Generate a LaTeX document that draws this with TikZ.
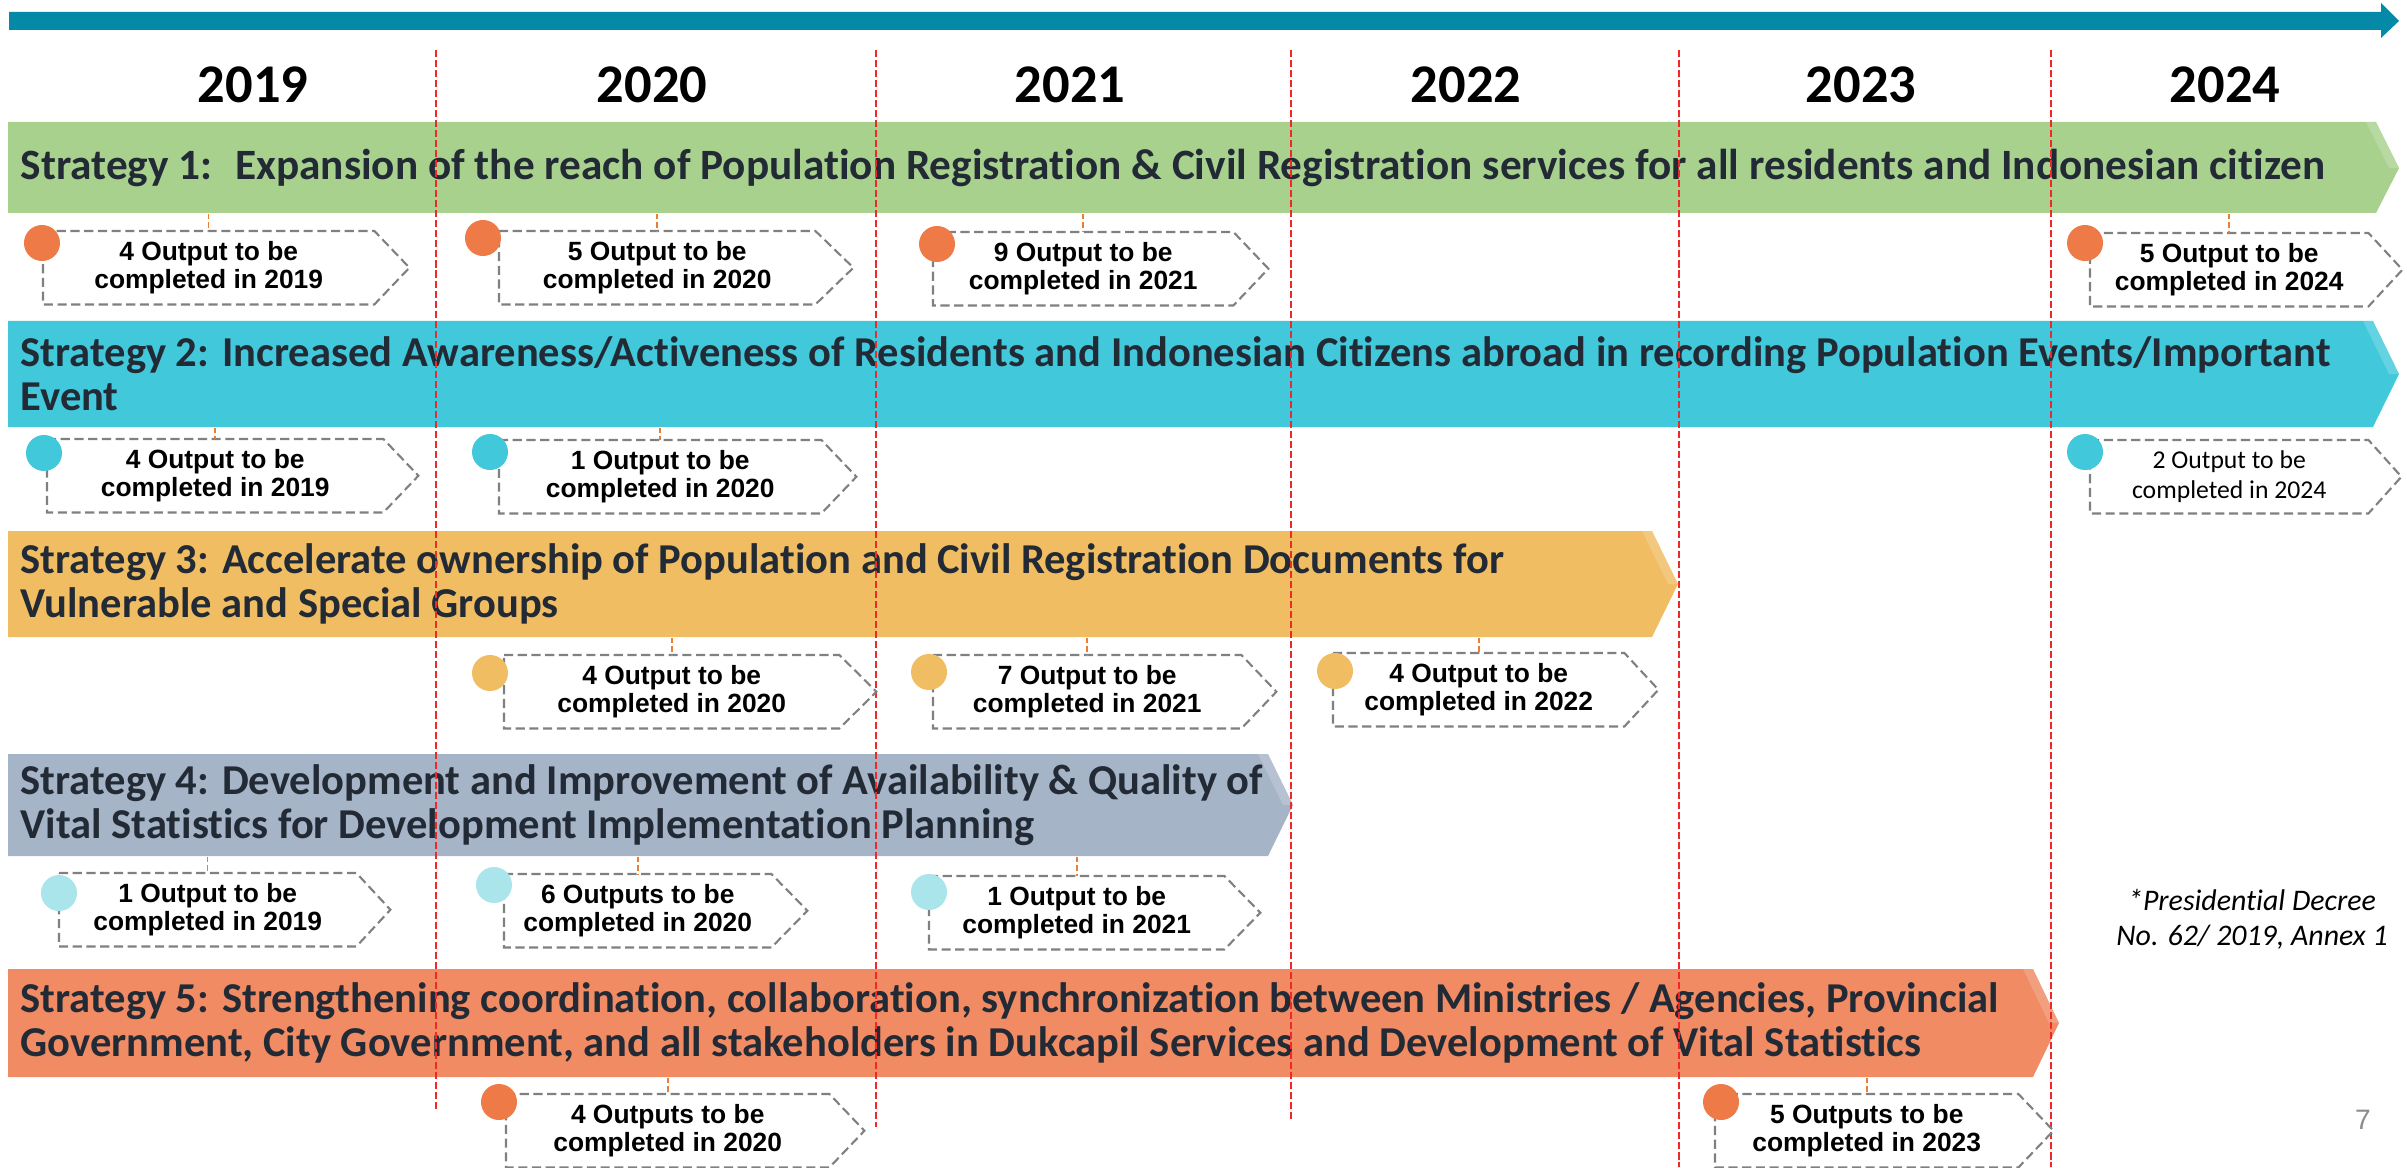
\documentclass[tikz,border=0pt]{standalone}
\usepackage{fontspec}
\setmainfont{Carlito}[Ligatures=NoCommon]
\newfontfamily\arialfont{Liberation Sans}
\usetikzlibrary{calc}

\definecolor{timeblue}{RGB}{4,137,166}
\definecolor{yearred}{RGB}{240,40,40}
\definecolor{inkdark}{RGB}{34,42,53}
\definecolor{sgreen}{RGB}{169,209,142}
\definecolor{scyan}{RGB}{65,201,219}
\definecolor{syellow}{RGB}{240,189,99}
\definecolor{sgrey}{RGB}{166,180,200}
\definecolor{ssalmon}{RGB}{240,139,100}
\definecolor{dotorange}{RGB}{238,122,72}
\definecolor{dotlight}{RGB}{170,229,236}
\definecolor{tickorange}{RGB}{237,125,49}
\definecolor{boxgrey}{RGB}{128,128,128}
\definecolor{pagegrey}{RGB}{140,140,140}

\tikzset{
  yeartext/.style={font=\bfseries\fontsize{15.5}{18}\selectfont},
  yearline/.style={yearred, line width=0.5pt, dash pattern=on 2pt off 0.85pt},
  bevel/.style={fill=white, fill opacity=0.18},
  bandtext/.style={anchor=west, inner xsep=0.12cm, inner ysep=0pt, align=left,
    text=inkdark, font=\bfseries\fontsize{12.1}{12.4}\selectfont},
  outtext/.style={anchor=north west, inner sep=0pt, minimum height=0.72cm, align=center,
    font=\arialfont\bfseries\fontsize{7.5}{8.2}\selectfont},
  plainout/.style={font=\mdseries\fontsize{7.3}{8.3}\selectfont},
  boxline/.style={boxgrey, line width=0.6pt, dash pattern=on 2.6pt off 1.3pt},
  dot/.style={circle, inner sep=0pt, minimum size=0.36cm},
  tick/.style={tickorange, line width=0.45pt, dash pattern=on 1.6pt off 0.8pt},
  note/.style={align=center, font=\itshape\fontsize{8.5}{10}\selectfont}
}

% [extra style] name, left, top, body right, tip, dot colour, dot centre, text
\newcommand{\outputbox}[9][]{%
  \node[outtext, #1, minimum width={(#5-#3)*0.01cm}] (#2) at (#3,#4) {#9};
  \draw[boxline] (#2.north west) -- (#2.north east) -- ($(#2.east)+(#6-#5,0)$)
    -- (#2.south east) -- (#2.south west) -- cycle;
  \node[dot, fill=#7] (#2dot) at (#8) {};
}

\begin{document}
\begin{tikzpicture}[x=0.01cm, y=-0.01cm]
\useasboundingbox (0,0) rectangle (2407,1167);

\fill[timeblue] (9,12) -- (2381,12) -- (2381,3) -- (2399,21) -- (2381,38) -- (2381,30) -- (9,30) -- cycle;

\path (253,85) node[yeartext] (y2019) {2019}
      (652,85) node[yeartext] (y2020) {2020}
      (1070,85) node[yeartext] (y2021) {2021}
      (1466,85) node[yeartext] (y2022) {2022}
      (1861,85) node[yeartext] (y2023) {2023}
      (2225,85) node[yeartext] (y2024) {2024};

\fill[sgreen] (8,122) -- (2376,122) -- (2399,168) -- (2376,213) -- (8,213) -- cycle;
\fill[bevel] (2366,122) -- (2376,122) -- (2399,168) -- (2389,168) -- cycle;
\node[bandtext, minimum height=0.91cm, font=\bfseries\fontsize{12.3}{12.4}\selectfont] (s1) at (8,167.5)
  {Strategy 1:~ Expansion of the reach of Population Registration \& Civil Registration services for all residents and Indonesian citizen};

\fill[scyan] (8,321) -- (2373,321) -- (2399,374) -- (2373,427) -- (8,427) -- cycle;
\fill[bevel] (2363,321) -- (2373,321) -- (2399,374) -- (2389,374) -- cycle;
\node[bandtext, minimum height=1.06cm] (s2) at (8,374)
  {Strategy 2: Increased Awareness/Activeness of Residents and Indonesian Citizens abroad in recording Population Events/Important\\Event};

\fill[syellow] (8,531) -- (1652,531) -- (1678,584) -- (1652,637) -- (8,637) -- cycle;
\fill[bevel] (1642,531) -- (1652,531) -- (1678,584) -- (1668,584) -- cycle;
\node[bandtext, minimum height=1.06cm] (s3) at (8,584)
  {Strategy 3: Accelerate ownership of Population and Civil Registration Documents for\\Vulnerable and Special Groups};

\fill[sgrey] (8,754) -- (1268,754) -- (1293,805) -- (1268,856) -- (8,856) -- cycle;
\fill[bevel] (1258,754) -- (1268,754) -- (1293,805) -- (1283,805) -- cycle;
\node[bandtext, minimum height=1.02cm] (s4) at (8,805)
  {Strategy 4: Development and Improvement of Availability \& Quality of\\Vital Statistics for Development Implementation Planning};

\fill[ssalmon] (8,969) -- (2033,969) -- (2059,1023) -- (2033,1077) -- (8,1077) -- cycle;
\fill[bevel] (2023,969) -- (2033,969) -- (2059,1023) -- (2049,1023) -- cycle;
\node[bandtext, minimum height=1.08cm] (s5) at (8,1023)
  {Strategy 5: Strengthening coordination, collaboration, synchronization between Ministries / Agencies, Provincial\\Government, City Government, and all stakeholders in Dukcapil Services and Development of Vital Statistics};

\draw[yearline] (436,50) -- (436,1110);
\draw[yearline] (876,50) -- (876,1127);
\draw[yearline] (1291,50) -- (1291,1120);
\draw[yearline] (1679,50) -- (1679,1167);
\draw[yearline] (2051,50) -- (2051,1167);

\outputbox{c1a}{43}{231}{373}{408}{dotorange}{42,243}{4 Output to be\\completed in 2019}
\outputbox{c1b}{499}{231}{814}{852}{dotorange}{483,238}{5 Output to be\\completed in 2020}
\outputbox{c1c}{933}{232}{1232}{1267}{dotorange}{937,244}{9 Output to be\\completed in 2021}
\outputbox{c1f}{2090}{233}{2367}{2401}{dotorange}{2085,243}{5 Output to be\\completed in 2024}
\outputbox{c2a}{47}{439}{382}{417}{scyan}{44,453}{4 Output to be\\completed in 2019}
\outputbox{c2b}{499}{440}{820}{855}{scyan}{490,452}{1 Output to be\\completed in 2020}
\outputbox[plainout]{c2f}{2090}{440}{2367}{2400}{scyan}{2085,452}{2 Output to be\\completed in 2024}
\outputbox{c3b}{504}{655}{838}{875}{syellow}{490,673}{4 Output to be\\completed in 2020}
\outputbox{c3c}{933}{655}{1240}{1275}{syellow}{929,672}{7 Output to be\\completed in 2021}
\outputbox{c3d}{1333}{653}{1623}{1657}{syellow}{1335,671}{4 Output to be\\completed in 2022}
\outputbox{c4a}{59}{873}{355}{389}{dotlight}{59,893}{1 Output to be\\completed in 2019}
\outputbox{c4b}{504}{874}{770}{806}{dotlight}{494,885}{6 Outputs to be\\completed in 2020}
\outputbox{c4c}{929}{876}{1223}{1259}{dotlight}{929,892}{1 Output to be\\completed in 2021}
\outputbox{c5b}{506}{1094}{828}{863}{dotorange}{499,1102}{4 Outputs to be\\completed in 2020}
\outputbox{c5e}{1715}{1094}{2017}{2052}{dotorange}{1721,1102}{5 Outputs to be\\completed in 2023}

\draw[tick] (c1a.north |- s1.south) -- (node cs:name=c1a, anchor=north);
\draw[tick] (c1b.north |- s1.south) -- (node cs:name=c1b, anchor=north);
\draw[tick] (c1c.north |- s1.south) -- (node cs:name=c1c, anchor=north);
\draw[tick] (c1f.north |- s1.south) -- (node cs:name=c1f, anchor=north);
\draw[tick] (c2a.north |- s2.south) -- (node cs:name=c2a, anchor=north);
\draw[tick] (c2b.north |- s2.south) -- (node cs:name=c2b, anchor=north);
\draw[tick] (c3b.north |- s3.south) -- (node cs:name=c3b, anchor=north);
\draw[tick] (c3c.north |- s3.south) -- (node cs:name=c3c, anchor=north);
\draw[tick] (c3d.north |- s3.south) -- (node cs:name=c3d, anchor=north);
\draw[tick] (c4a.north |- s4.south) -- (node cs:name=c4a, anchor=north);
\draw[tick] (c4b.north |- s4.south) -- (node cs:name=c4b, anchor=north);
\draw[tick] (c4c.north |- s4.south) -- (node cs:name=c4c, anchor=north);
\draw[tick] (c5b.north |- s5.south) -- (node cs:name=c5b, anchor=north);
\draw[tick] (c5e.north |- s5.south) -- (node cs:name=c5e, anchor=north);

\node[note] (decree) at (2252,919) {*Presidential Decree\\No. 62/ 2019, Annex 1};
\node[font=\arialfont\fontsize{8}{10}\selectfont, text=pagegrey] (pagenum) at (2363,1120) {7};
\end{tikzpicture}
\end{document}
